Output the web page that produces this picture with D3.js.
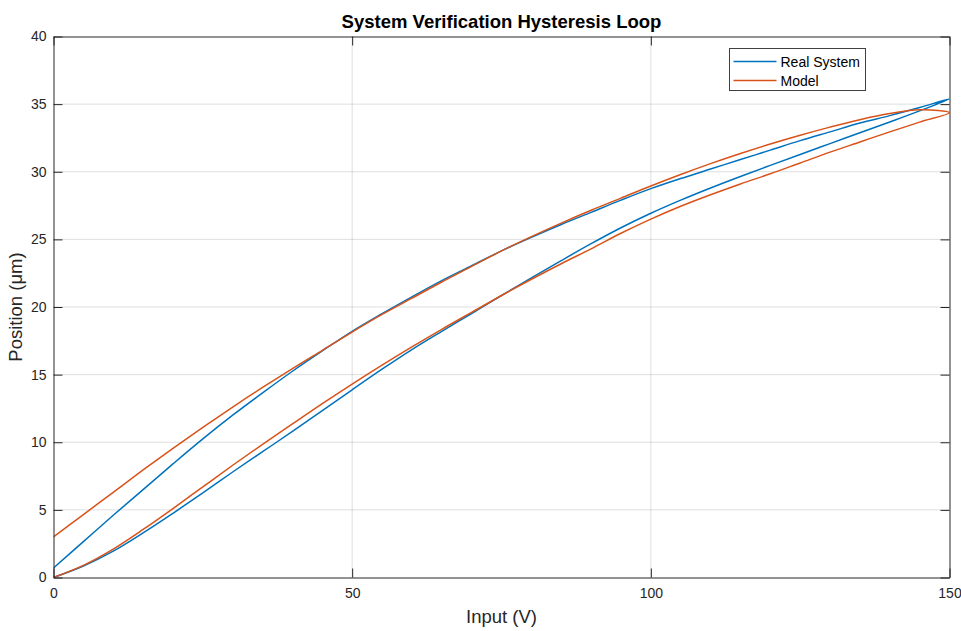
<!DOCTYPE html>
<html>
<head>
<meta charset="utf-8">
<script src="https://cdn.jsdelivr.net/npm/d3@7"></script>
<style>
  html, body { margin: 0; padding: 0; background: #fff; }
  svg { display: block; font-family: "Liberation Sans", Arial, Helvetica, sans-serif; }
</style>
</head>
<body>
<svg id="chart" width="961" height="631"></svg>
<script>
// Input voltage samples (V) shared by every branch
const inputV = [0, 5, 10, 15, 20, 25, 30, 35, 40, 45, 50, 55, 60, 65, 70, 75,
                80, 85, 90, 95, 100, 105, 110, 115, 120, 125, 130, 135, 140, 145, 150];

// Measured positions (µm): rising voltage, then falling voltage (listed by ascending V)
const realRising  = [0, 0.85, 1.95, 3.3, 4.75, 6.25, 7.8, 9.3, 10.8, 12.33, 13.88, 15.4, 16.85, 18.2, 19.52, 20.85,
                     22.15, 23.43, 24.68, 25.86, 26.93, 27.9, 28.8, 29.65, 30.47, 31.28, 32.08, 32.88, 33.68, 34.5, 35.38];
const realFalling = [0.7, 2.65, 4.6, 6.5, 8.4, 10.25, 12.0, 13.65, 15.25, 16.75, 18.2, 19.5, 20.75, 21.95, 23.05, 24.15,
                     25.15, 26.1, 27.0, 27.9, 28.75, 29.5, 30.2, 30.9, 31.6, 32.3, 32.95, 33.6, 34.15, 34.75, 35.38];

// Model output (µm) for the same excitation
const modelRising  = [0, 0.9, 2.1, 3.55, 5.1, 6.7, 8.3, 9.85, 11.35, 12.85, 14.3, 15.7, 17.05, 18.35, 19.6, 20.85,
                      22.05, 23.2, 24.3, 25.45, 26.5, 27.45, 28.3, 29.1, 29.85, 30.65, 31.45, 32.2, 32.95, 33.67, 34.37];
const modelFalling = [3.0, 4.65, 6.3, 7.95, 9.55, 11.1, 12.6, 14.05, 15.45, 16.8, 18.15, 19.45, 20.65, 21.85, 23.0, 24.15,
                      25.2, 26.2, 27.15, 28.05, 28.95, 29.8, 30.6, 31.35, 32.05, 32.7, 33.3, 33.85, 34.3, 34.58, 34.37];

const xTicks = [0, 50, 100, 150];
const yTicks = [0, 5, 10, 15, 20, 25, 30, 35, 40];

const seriesNames = ["Real System", "Model"];
const seriesColors = ["#0072BD", "#D95319"];

const svg = d3.select("#chart");
const axisColor = "#262626";
const fontFamily = "'Liberation Sans', Arial, Helvetica, sans-serif";

const x = d3.scaleLinear().domain([0, 150]).range([53.5, 949.5]);
const y = d3.scaleLinear().domain([0, 40]).range([577.5, 36.5]);

const [x0, x1] = x.range();
const [y0, y1] = y.range();

// grid
const grid = svg.append("g");
grid.selectAll("line.gx").data(xTicks.slice(1, -1)).join("line")
  .attr("x1", d => x(d)).attr("x2", d => x(d))
  .attr("y1", y1).attr("y2", y0)
  .attr("stroke", axisColor).attr("stroke-opacity", 0.15).attr("stroke-width", 1);
grid.selectAll("line.gy").data(yTicks.slice(1, -1)).join("line")
  .attr("x1", x0).attr("x2", x1)
  .attr("y1", d => y(d)).attr("y2", d => y(d))
  .attr("stroke", axisColor).attr("stroke-opacity", 0.15).attr("stroke-width", 1);

// one continuous path per series: rising sweep then falling sweep
function loopPoints(rising, falling) {
  const up = inputV.map((v, i) => [v, rising[i]]);
  const down = inputV.map((v, i) => [v, falling[i]]).reverse();
  return up.concat(down.slice(1));
}
const line = d3.line().x(d => x(d[0])).y(d => y(d[1])).curve(d3.curveCatmullRom.alpha(0.5));

svg.append("clipPath").attr("id", "plotclip").append("rect")
  .attr("x", x0).attr("y", y1).attr("width", x1 - x0).attr("height", y0 - y1);

const plot = svg.append("g").attr("clip-path", "url(#plotclip)");
plot.append("path").datum(loopPoints(realRising, realFalling))
  .attr("d", line).attr("fill", "none")
  .attr("stroke", seriesColors[0]).attr("stroke-width", 1.5).attr("stroke-linejoin", "round");
plot.append("path").datum(loopPoints(modelRising, modelFalling))
  .attr("d", line).attr("fill", "none")
  .attr("stroke", seriesColors[1]).attr("stroke-width", 1.5).attr("stroke-linejoin", "round");

// axes with inward ticks on all four sides
const tickLen = 9;
const fmt = d3.format("d");
const axisBottomG = svg.append("g").attr("transform", `translate(0,${y0})`)
  .call(d3.axisBottom(x).tickValues(xTicks).tickSizeInner(-tickLen).tickSizeOuter(0).tickPadding(11).tickFormat(fmt));
const axisTopG = svg.append("g").attr("transform", `translate(0,${y1})`)
  .call(d3.axisTop(x).tickValues(xTicks).tickSizeInner(-tickLen).tickSizeOuter(0).tickFormat(""));
const axisLeftG = svg.append("g").attr("transform", `translate(${x0},0)`)
  .call(d3.axisLeft(y).tickValues(yTicks).tickSizeInner(-tickLen).tickSizeOuter(0).tickPadding(7).tickFormat(fmt));
const axisRightG = svg.append("g").attr("transform", `translate(${x1},0)`)
  .call(d3.axisRight(y).tickValues(yTicks).tickSizeInner(-tickLen).tickSizeOuter(0).tickFormat(""));

[axisBottomG, axisTopG, axisLeftG, axisRightG].forEach(g => {
  g.select(".domain").attr("stroke", axisColor).attr("stroke-width", 1);
  g.selectAll(".tick line").attr("stroke", axisColor).attr("stroke-width", 1);
  g.selectAll(".tick text").attr("fill", axisColor).attr("font-size", 14)
    .attr("font-family", fontFamily);
});

// titles
svg.append("text").attr("x", (x0 + x1) / 2).attr("y", 28)
  .attr("text-anchor", "middle").attr("font-size", 18.5).attr("font-weight", "bold")
  .attr("font-family", fontFamily).attr("fill", "#000")
  .text("System Verification Hysteresis Loop");
svg.append("text").attr("x", (x0 + x1) / 2).attr("y", 623)
  .attr("text-anchor", "middle").attr("font-size", 18.5)
  .attr("font-family", fontFamily).attr("fill", axisColor).text("Input (V)");
svg.append("text").attr("transform", `translate(22,${(y0 + y1) / 2}) rotate(-90)`)
  .attr("text-anchor", "middle").attr("font-size", 18.5)
  .attr("font-family", fontFamily).attr("fill", axisColor).text("Position (μm)");

// legend
const legend = svg.append("g").attr("transform", "translate(729.5,48.5)");
legend.append("rect").attr("width", 136).attr("height", 42)
  .attr("fill", "#fff").attr("stroke", "#404040").attr("stroke-width", 1);
seriesNames.forEach((name, i) => {
  const cy = 13 + i * 19;
  legend.append("line").attr("x1", 4).attr("x2", 47).attr("y1", cy).attr("y2", cy)
    .attr("stroke", seriesColors[i]).attr("stroke-width", 1.5);
  legend.append("text").attr("x", 51).attr("y", cy + 5)
    .attr("font-size", 14).attr("font-family", fontFamily).attr("fill", "#000").text(name);
});
</script>
</body>
</html>
